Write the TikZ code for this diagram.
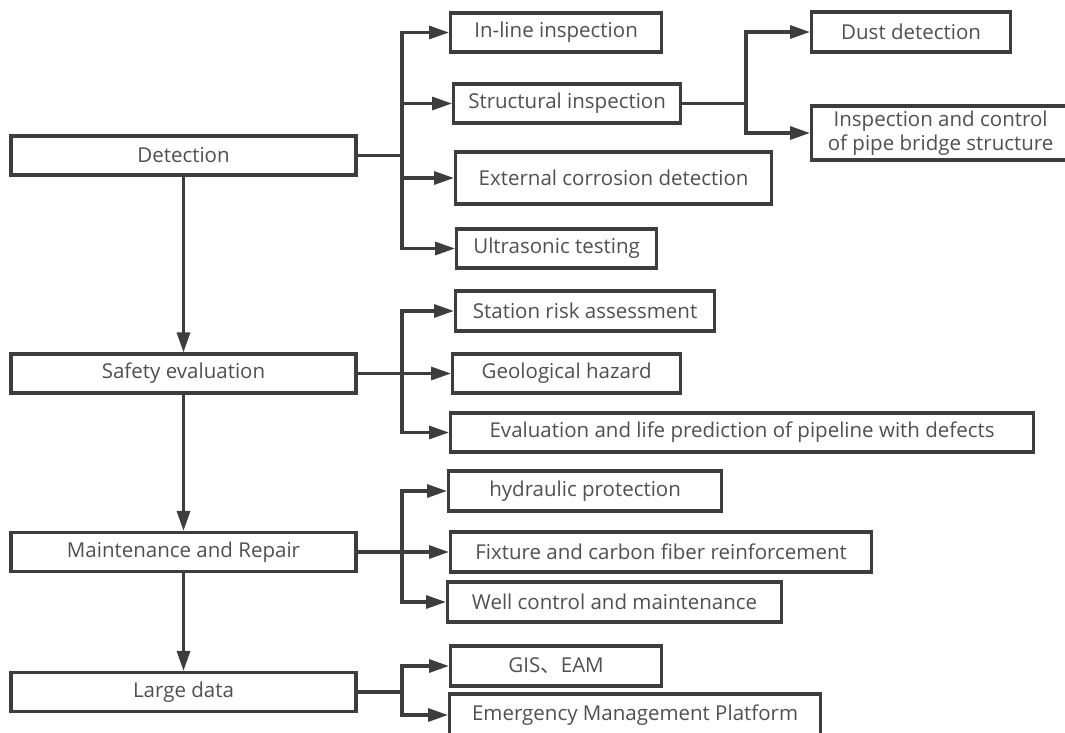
\documentclass[tikz,border=0pt]{standalone}
\usepackage{fontspec}
\setmainfont{Open Sans}
\newfontfamily\cjkfont{Noto Sans CJK SC}
\usepackage{tikz}
\usetikzlibrary{arrows.meta}

\definecolor{linegray}{HTML}{3d3d3d}
\definecolor{textgray}{HTML}{505050}

\tikzset{
  box/.style={draw=linegray, line width=3.2pt, fill=white, text=textgray,
    minimum height=39pt, inner sep=0pt, font=\fontsize{20.5}{24.5}\selectfont},
  mainbox/.style={box, minimum width=345pt},
  plain/.style={draw=linegray, line width=3.2pt},
  link/.style={plain, -{Triangle[length=20pt,width=13pt]}}
}

\begin{document}
\begin{tikzpicture}[x=1pt,y=-1pt]
		  \useasboundingbox (0,0) rectangle (1065,732);
		  % main column
		  \node[mainbox] (det) at (183.5,155.5) {Detection};
		  \node[mainbox] (safe) at (183.5,373.5) {Safety evaluation};
		  \node[mainbox] (maint) at (183.5,552) {Maintenance and Repair};
		  \node[mainbox] (big) at (183.5,692) {Large data};
		  \draw[link] (det) -- (safe);
		  \draw[link] (safe) -- (maint);
		  \draw[link] (maint) -- (big);
		  % detection
		  \node[box, anchor=west, minimum width=211pt] (inline) at (449,32.5) {In-line inspection};
		  \node[box, anchor=west, minimum width=227pt] (struct) at (452,103.5) {Structural inspection};
		  \node[box, anchor=west, minimum width=316pt, minimum height=52pt] (extcorr) at (454,178) {External corrosion detection};
		  \node[box, anchor=west, minimum width=200pt] (ultra) at (455,248.5) {Ultrasonic testing};
		  \coordinate (detj) at (402,155.5);
		  \draw[plain] (det.east) -- (detj);
		  \foreach \n in {inline,struct,extcorr,ultra}
		    \draw[link] (detj) |- (\n.west);
		  % structural inspection
		  \node[box, anchor=west, minimum width=199pt, minimum height=40pt] (dust) at (810,32) {Dust detection};
		  \node[box, anchor=west, minimum width=258pt, minimum height=54pt, align=center] (bridge) at (810,133) {Inspection and control\\of pipe bridge structure};
		  \coordinate (structj) at (746,103.5);
		  \draw[plain] (struct.east) -- (structj);
		  \foreach \n in {dust,bridge}
		    \draw[link] (structj) |- (\n.west);
		  % safety evaluation
		  \node[box, anchor=west, minimum width=259pt, minimum height=40pt] (station) at (454,311) {Station risk assessment};
		  \node[box, anchor=west, minimum width=228pt] (geo) at (451,373.5) {Geological hazard};
		  \node[box, anchor=west, minimum width=583pt] (evallife) at (449,432.5) {Evaluation and life prediction of pipeline with defects};
		  \coordinate (safej) at (402,373.5);
		  \draw[plain] (safe.east) -- (safej);
		  \foreach \n in {station,geo,evallife}
		    \draw[link] (safej) |- (\n.west);
		  % maintenance
		  \node[box, anchor=west, minimum width=273pt, minimum height=40pt] (hydro) at (447,491) {hydraulic protection};
		  \node[box, anchor=west, minimum width=421pt, minimum height=40pt] (fixture) at (449,552) {Fixture and carbon fiber reinforcement};
		  \node[box, anchor=west, minimum width=334pt, minimum height=40pt] (well) at (446,602) {Well control and maintenance};
		  \coordinate (maintj) at (402,552);
		  \draw[plain] (maint.east) -- (maintj);
		  \foreach \n in {hydro,fixture,well}
		    \draw[link] (maintj) |- (\n.west);
		  % large data
		  \node[box, anchor=west, minimum width=211pt, minimum height=40pt] (gis) at (449,666) {GIS{\cjkfont 、}EAM};
		  \node[box, anchor=west, minimum width=371pt, minimum height=42pt] (emerg) at (448,715) {Emergency Management Platform};
		  \coordinate (bigj) at (402,692);
		  \draw[plain] (big.east) -- (bigj);
		  \foreach \n in {gis,emerg}
		    \draw[link] (bigj) |- (\n.west);
\end{tikzpicture}
\end{document}
